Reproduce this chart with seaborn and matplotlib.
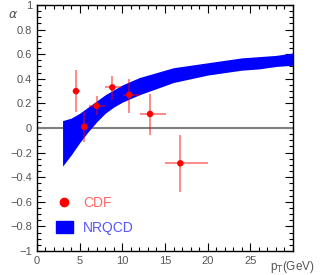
import numpy as np
import matplotlib
matplotlib.use("Agg")
import matplotlib.pyplot as plt
import seaborn as sns
from matplotlib.lines import Line2D
from matplotlib.patches import Rectangle
from matplotlib.ticker import MultipleLocator

# CDF data points
pt = [4.57, 5.55, 7.0, 8.83, 10.82, 13.25, 16.8]
alpha = [0.30, 0.01, 0.18, 0.33, 0.27, 0.114, -0.287]
alpha_hi = [0.47, 0.13, 0.26, 0.42, 0.40, 0.28, -0.057]
alpha_lo = [0.13, -0.11, 0.105, 0.23, 0.125, -0.057, -0.52]
pt_lo = [4.2, 5.15, 6.1, 8.0, 10.1, 12.07, 15.0]
pt_hi = [5.0, 6.0, 8.0, 10.0, 12.07, 15.1, 20.1]

# NRQCD band
band_pt = [3, 4, 5, 6, 7, 8, 9, 10, 11, 12, 14, 16, 18, 20, 22, 24, 26, 28, 30]
band_hi = [0.06, 0.08, 0.12, 0.17, 0.22, 0.27, 0.31, 0.35, 0.38, 0.41, 0.45,
           0.49, 0.51, 0.53, 0.55, 0.57, 0.58, 0.59, 0.61]
band_lo = [-0.31, -0.22, -0.12, -0.03, 0.05, 0.12, 0.17, 0.21, 0.24, 0.27, 0.32,
           0.37, 0.40, 0.43, 0.45, 0.47, 0.48, 0.50, 0.51]

sns.set_style("ticks")
plt.rcParams['font.family'] = ['Liberation Sans', 'DejaVu Sans']

fig = plt.figure(figsize=(3.27, 2.75), dpi=100)
ax = fig.add_axes([0.113, 0.087, 0.783, 0.895])

ax.fill_between(band_pt, band_lo, band_hi, color='#0000ff', lw=0, zorder=2)
ax.axhline(0, color='#808080', lw=1.5, zorder=1)

pt_a = np.array(pt)
a = np.array(alpha)
yerr = [a - np.array(alpha_lo), np.array(alpha_hi) - a]
xerr = [pt_a - np.array(pt_lo), np.array(pt_hi) - pt_a]
ax.errorbar(pt, alpha, xerr=xerr, yerr=yerr, fmt='none', ecolor='#ff0000',
            alpha=0.5, elinewidth=1.3, capsize=0, zorder=3)
sns.scatterplot(x=pt, y=alpha, color='#ff0000', s=22, edgecolor='none',
                ax=ax, zorder=4)

ax.set_xlim(0, 30)
ax.set_ylim(-1, 1)
ax.xaxis.set_major_locator(MultipleLocator(5))
ax.xaxis.set_minor_locator(MultipleLocator(1))
ax.yaxis.set_major_locator(MultipleLocator(0.2))
ax.yaxis.set_minor_locator(MultipleLocator(0.05))
ax.tick_params(which='both', direction='in', top=True, right=True,
               labelsize=8, labelcolor='#555555', width=0.8, color='black')
ax.tick_params(which='major', length=5.5)
ax.tick_params(which='minor', length=3)
ax.set_xticks([0, 5, 10, 15, 20, 25])
ax.set_xticklabels(['0', '5', '10', '15', '20', '25'])
ax.set_yticks(np.round(np.arange(-1, 1.01, 0.2), 1))
ax.set_yticklabels(['\u22121', '\u22120.8', '\u22120.6', '\u22120.4', '\u22120.2', '0',
                    '0.2', '0.4', '0.6', '0.8', '1'])
for s in ax.spines.values():
    s.set_linewidth(1.0)
    s.set_color('black')

fig.text(0.04, 0.945, r'$\alpha$', fontsize=9, color='#555555', ha='center', va='center')
fig.text(0.895, 0.03, r'p$_\mathrm{T}$(GeV)', fontsize=8.5, color='#555555',
         ha='center', va='center')

handles = [Line2D([], [], marker='o', color='#ff0000', ls='none', markersize=6),
           Rectangle((0, 0), 1, 1, color='#0000ff')]
leg = ax.legend(handles, ['CDF', 'NRQCD'], loc='lower left',
                bbox_to_anchor=(0.025, 0.015), frameon=False, fontsize=10,
                handlelength=1.2, handleheight=0.95, handletextpad=0.75,
                labelspacing=0.75, labelcolor=['#ff6666', '#5555ff'])

fig.savefig('out.png', dpi=100)
